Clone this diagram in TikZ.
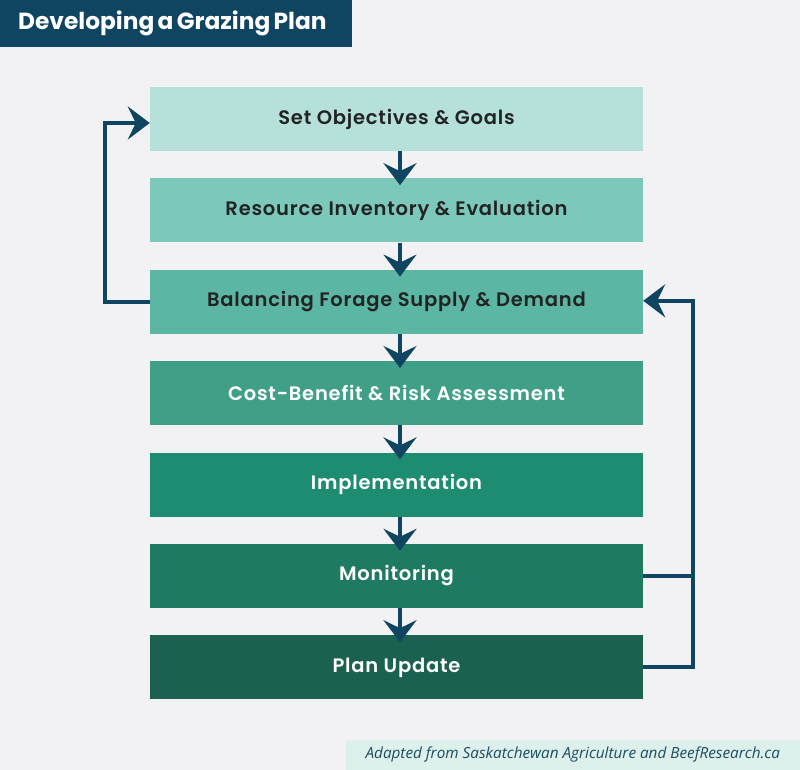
\documentclass[tikz,border=0pt]{standalone}
\usepackage{fontspec}
\setmainfont{Poppins}[BoldFont={* SemiBold}]
\newfontfamily\headfont{Poppins}[UprightFont={* Bold}]
\newfontfamily\notefont{Open Sans}
\usetikzlibrary
  {
    arrows.meta,  % stealth heads
    positioning,  % place the boxes below one another
    calc,
  }

\definecolor{paper}{HTML}{F2F2F4}
\definecolor{navy}{HTML}{0F4560}
\definecolor{ink}{HTML}{222424}
\definecolor{mint}{HTML}{DDF0EC}
\definecolor{notetext}{HTML}{1C4C60}
\definecolor{stageA}{HTML}{B6E1DB}
\definecolor{stageB}{HTML}{7CC9BB}
\definecolor{stageC}{HTML}{5BB6A3}
\definecolor{stageD}{HTML}{40A087}
\definecolor{stageE}{HTML}{1D8C71}
\definecolor{stageF}{HTML}{1F7A62}
\definecolor{stageG}{HTML}{1B614F}

\tikzset{
  stepbox/.style = {minimum width=493pt, minimum height=64pt, inner sep=0pt,
                    font=\bfseries\fontsize{19.5}{22}\selectfont\addfontfeatures{LetterSpace=4}},
  darktext/.style = {text=ink},
  lighttext/.style = {text=white},
  link/.style = {draw=navy, line width=4pt},
  flow/.style = {link, -{Stealth[length=22pt, width=33pt, inset=8pt]}},
}

\begin{document}
\begin{tikzpicture}[x=1pt, y=1pt, node distance=27pt]
  \useasboundingbox (0,0) rectangle (800,-770);
  \fill[paper] (0,0) rectangle (800,-770);

  % heading and source line
  \node[fill=navy, text=white, anchor=north west, minimum height=47pt,
        inner xsep=18pt, text width=316pt, align=left] (title) at (0,0)
        {\headfont\fontsize{23.3}{26}\selectfont Developing a Grazing Plan};
  \node[fill=mint, text=notetext, anchor=south east, minimum width=454pt,
        minimum height=30pt, inner sep=0pt] (source) at (800,-770)
        {\notefont\itshape\fontsize{15.3}{17}\selectfont Adapted from Saskatchewan Agriculture and BeefResearch.ca};

  % the seven stages
  \node[stepbox, darktext, fill=stageA] (goals) at (396.5,-119) {Set Objectives \& Goals};
  \node[stepbox, darktext, fill=stageB, below=of goals] (inventory) {Resource Inventory \& Evaluation};
  \node[stepbox, darktext, fill=stageC, below=of inventory] (balance) {Balancing Forage Supply \& Demand};
  \node[stepbox, lighttext, fill=stageD, below=of balance] (risk) {Cost-Benefit \& Risk Assessment};
  \node[stepbox, lighttext, fill=stageE, below=of risk] (implement) {Implementation};
  \node[stepbox, lighttext, fill=stageF, below=of implement] (monitor) {Monitoring};
  \node[stepbox, lighttext, fill=stageG, below=of monitor] (update) {Plan Update};

  % arrows down the column
  \foreach \a/\b in {goals/inventory, inventory/balance, balance/risk,
                     risk/implement, implement/monitor, monitor/update}
    \draw[flow, shorten >=-7pt] ([xshift=3.5pt]\a.south) -- ([xshift=3.5pt]\b.north);

  % feedback loops
  \draw[flow] (balance.west) -- ++(-45,0) |- ([yshift=-4pt]goals.west);
  \draw[link] (monitor.east) -- ++(50,0);
  \draw[flow] (update.east) -- ++(50,0) |- ([yshift=1pt]balance.east);
\end{tikzpicture}
\end{document}
